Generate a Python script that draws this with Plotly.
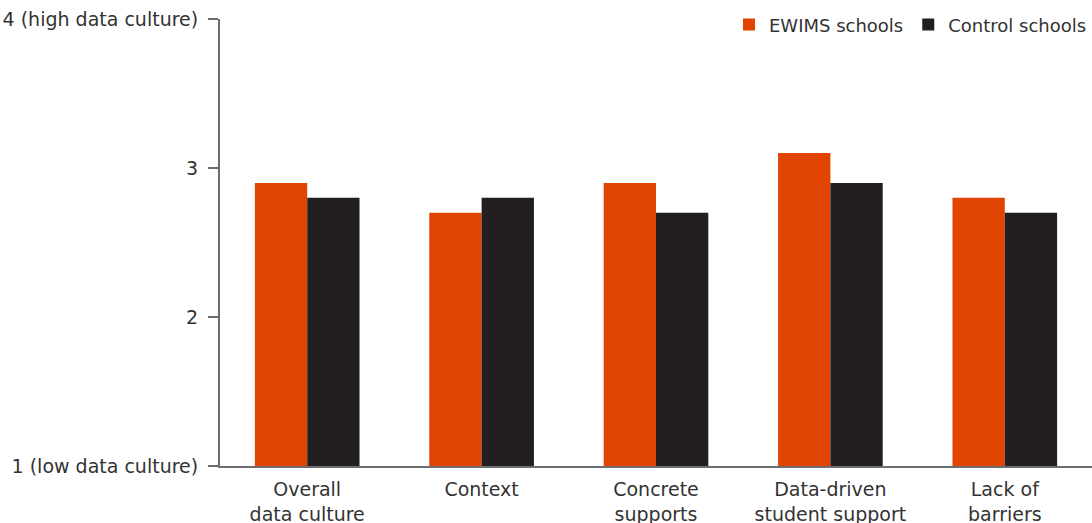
import plotly.graph_objects as go

categories = ["Overall<br>data culture", "Context", "Concrete<br>supports",
              "Data-driven<br>student support", "Lack of<br>barriers"]
ewims = [2.9, 2.7, 2.9, 3.1, 2.8]
control = [2.8, 2.8, 2.7, 2.9, 2.7]
tick_vals = [1, 2, 3, 4]
tick_text = ["1 (low data culture)", "2", "3", "4 (high data culture)"]

ORANGE = "#e04400"
BLACK = "#231f20"
GREY = "#6d6e71"
TEXT = "#333333"
FONT = "DejaVu Sans, Verdana, sans-serif"

fig = go.Figure()
fig.add_trace(go.Bar(x=categories, y=ewims, name="EWIMS schools",
                     marker=dict(color=ORANGE, line=dict(width=0))))
fig.add_trace(go.Bar(x=categories, y=control, name="Control schools",
                     marker=dict(color=BLACK, line=dict(width=0))))

fig.update_layout(
    width=1092, height=523,
    margin=dict(l=220, r=0, t=19, b=57),
    paper_bgcolor="white", plot_bgcolor="white",
    barmode="group", bargap=0.4, bargroupgap=0,
    font=dict(family=FONT, size=19, color=TEXT),
    showlegend=True,
    legend=dict(orientation="h", x=1.0, xanchor="right", y=0.987, yanchor="middle",
                font=dict(size=18, color=TEXT), bgcolor="rgba(0,0,0,0)",
                itemwidth=30, tracegroupgap=0),
)
fig.update_yaxes(range=[1, 4], tickvals=tick_vals, ticktext=tick_text,
                 showgrid=False, zeroline=False, showline=True,
                 linecolor=GREY, linewidth=2, ticks="outside", ticklen=10,
                 tickcolor=GREY, tickwidth=2, ticklabelstandoff=6,
                 tickfont=dict(size=19, color=TEXT), automargin=False)
fig.update_xaxes(showgrid=False, showline=True, linecolor=GREY, linewidth=2,
                 ticks="", ticklabelstandoff=5, tickfont=dict(size=19, color=TEXT),
                 automargin=False)

fig.write_html("out.html")
